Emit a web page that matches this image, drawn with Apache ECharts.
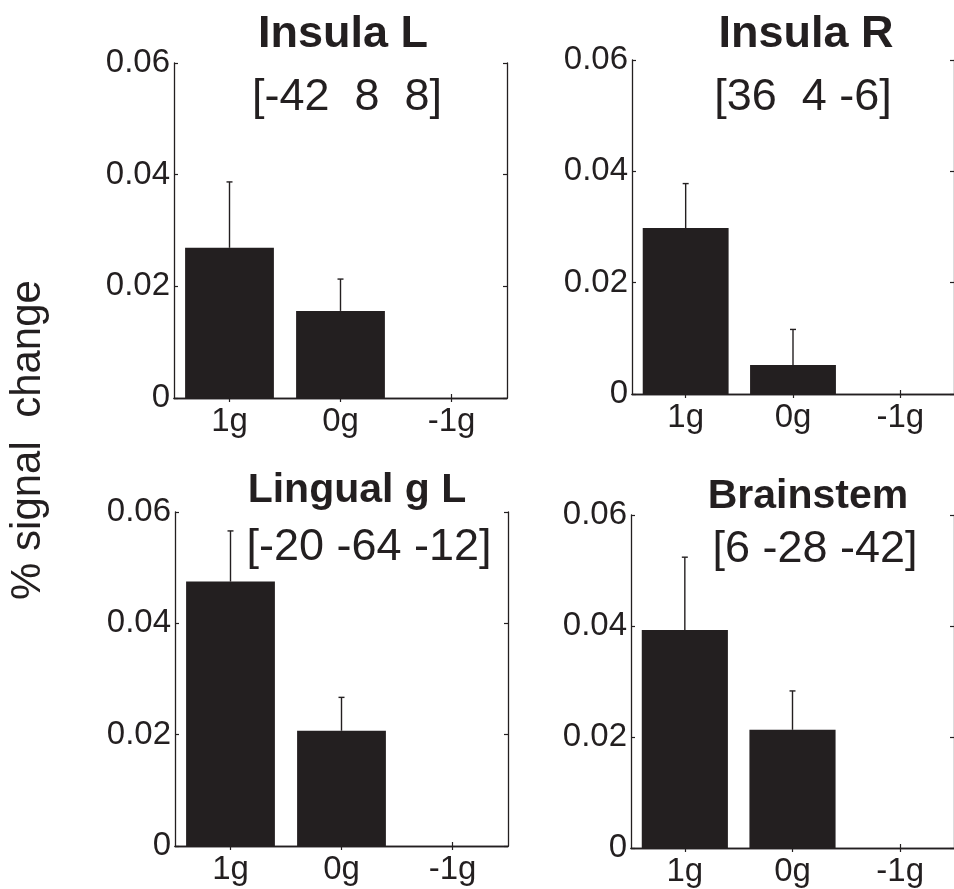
<!DOCTYPE html>
<html>
<head>
<meta charset="utf-8">
<script src="https://cdn.jsdelivr.net/npm/echarts@6/dist/echarts.min.js"></script>
<style>html,body{margin:0;padding:0;background:#fff;}#chart{width:954px;height:889px;}</style>
</head>
<body>
<div id="chart"></div>
<script>
var categories = ['1g', '0g', '-1g'];
var panelNames = ['Insula L', 'Insula R', 'Lingual g L', 'Brainstem'];
var coordLabels = ['[-42  8  8]', '[36  4 -6]', '[-20 -64 -12]', '[6 -28 -42]'];
var insulaL = [0.0269, 0.0156, 0];
var insulaLErr = [0.0118, 0.0057, 0];
var insulaR = [0.0298, 0.0052, 0];
var insulaRErr = [0.0080, 0.0064, 0];
var lingualL = [0.0475, 0.0207, 0];
var lingualLErr = [0.0091, 0.0060, 0];
var brainstem = [0.0393, 0.0213, 0];
var brainstemErr = [0.0131, 0.0070, 0];
var yTickLabels = ['0', '0.02', '0.04', '0.06'];
var yAxisName = '% signal  change';

var values = [insulaL, insulaR, lingualL, brainstem];
var errors = [insulaLErr, insulaRErr, lingualLErr, brainstemErr];

var INK = '#231f20';
var FONT = "'Liberation Sans', Arial, Helvetica, sans-serif";

var grids = [
  {left: 174, top: 63, width: 333, height: 335},
  {left: 632, top: 60, width: 333, height: 334},
  {left: 175, top: 512, width: 333, height: 334},
  {left: 631, top: 515, width: 333, height: 333}
];
var titleLayout = [
  {x: 338, y: 7, size: 45, sx: 342, sy: 70},
  {x: 801, y: 7, size: 45, sx: 798, sy: 70},
  {x: 352, y: 465, size: 41, sx: 364, sy: 520},
  {x: 803, y: 471, size: 41, sx: 810, sy: 522}
];

var axisLine = {show: true, lineStyle: {color: INK, width: 1.3}};
var xAxes = [], yAxes = [], series = [], titles = [];
grids.forEach(function (g, i) {
  xAxes.push({
    type: 'category', gridIndex: i, data: categories, position: 'bottom',
    axisLine: axisLine,
    axisTick: {show: true, inside: true, alignWithLabel: true, length: 4, lineStyle: {color: INK, width: 1.2}},
    axisLabel: {show: true, color: INK, fontSize: 33, fontFamily: FONT, margin: 7}
  });
  xAxes.push({
    type: 'category', gridIndex: i, data: categories, position: 'top',
    axisLine: axisLine,
    axisTick: {show: true, inside: true, alignWithLabel: true, length: 4, lineStyle: {color: INK, width: 1.2}},
    axisLabel: {show: false}
  });
  yAxes.push({
    type: 'value', gridIndex: i, min: 0, max: 0.06, interval: 0.02, position: 'left',
    axisLine: axisLine, splitLine: {show: false},
    axisTick: {show: true, inside: true, length: 4, lineStyle: {color: INK, width: 1.2}},
    axisLabel: {show: true, color: INK, fontSize: 33, fontFamily: FONT, margin: 4,
      formatter: function (v) { return yTickLabels[Math.round(v / 0.02)]; }}
  });
  yAxes.push({
    type: 'value', gridIndex: i, min: 0, max: 0.06, interval: 0.02, position: 'right',
    axisLine: axisLine, splitLine: {show: false},
    axisTick: {show: true, inside: true, length: 4, lineStyle: {color: INK, width: 1.2}},
    axisLabel: {show: false}
  });
  series.push({
    type: 'bar', xAxisIndex: 2 * i, yAxisIndex: 2 * i, data: values[i],
    barCategoryGap: '20%', itemStyle: {color: INK}, silent: true
  });
  series.push({
    type: 'custom', xAxisIndex: 2 * i, yAxisIndex: 2 * i, silent: true, z: 5,
    data: values[i].map(function (v, k) { return [k, v, v + errors[i][k]]; }),
    renderItem: function (params, api) {
      var lo = api.coord([api.value(0), api.value(1)]);
      var hi = api.coord([api.value(0), api.value(2)]);
      if (Math.abs(lo[1] - hi[1]) < 0.5) return null;
      var st = {stroke: INK, lineWidth: 1.4};
      return {type: 'group', children: [
        {type: 'line', shape: {x1: lo[0], y1: lo[1], x2: hi[0], y2: hi[1]}, style: st},
        {type: 'line', shape: {x1: hi[0] - 3, y1: hi[1], x2: hi[0] + 3, y2: hi[1]}, style: st}
      ]};
    }
  });
  var t = titleLayout[i];
  titles.push({text: panelNames[i], left: t.x, top: t.y, textAlign: 'center',
    textStyle: {color: INK, fontSize: t.size, fontWeight: 'bold', fontFamily: FONT}});
  titles.push({text: coordLabels[i], left: t.sx, top: t.sy, textAlign: 'center',
    textStyle: {color: INK, fontSize: 45, fontWeight: 'normal', fontFamily: FONT}});
});

var chart = echarts.init(document.getElementById('chart'), null, {renderer: 'canvas'});
chart.setOption({
  backgroundColor: '#ffffff',
  animation: false,
  title: titles,
  grid: grids,
  xAxis: xAxes,
  yAxis: yAxes,
  series: series,
  graphic: [{
    type: 'text', x: 28, y: 440, rotation: Math.PI / 2,
    style: {text: yAxisName, fill: INK, fontSize: 42, fontFamily: FONT,
      textAlign: 'center', textVerticalAlign: 'middle'}
  }]
});
</script>
</body>
</html>
